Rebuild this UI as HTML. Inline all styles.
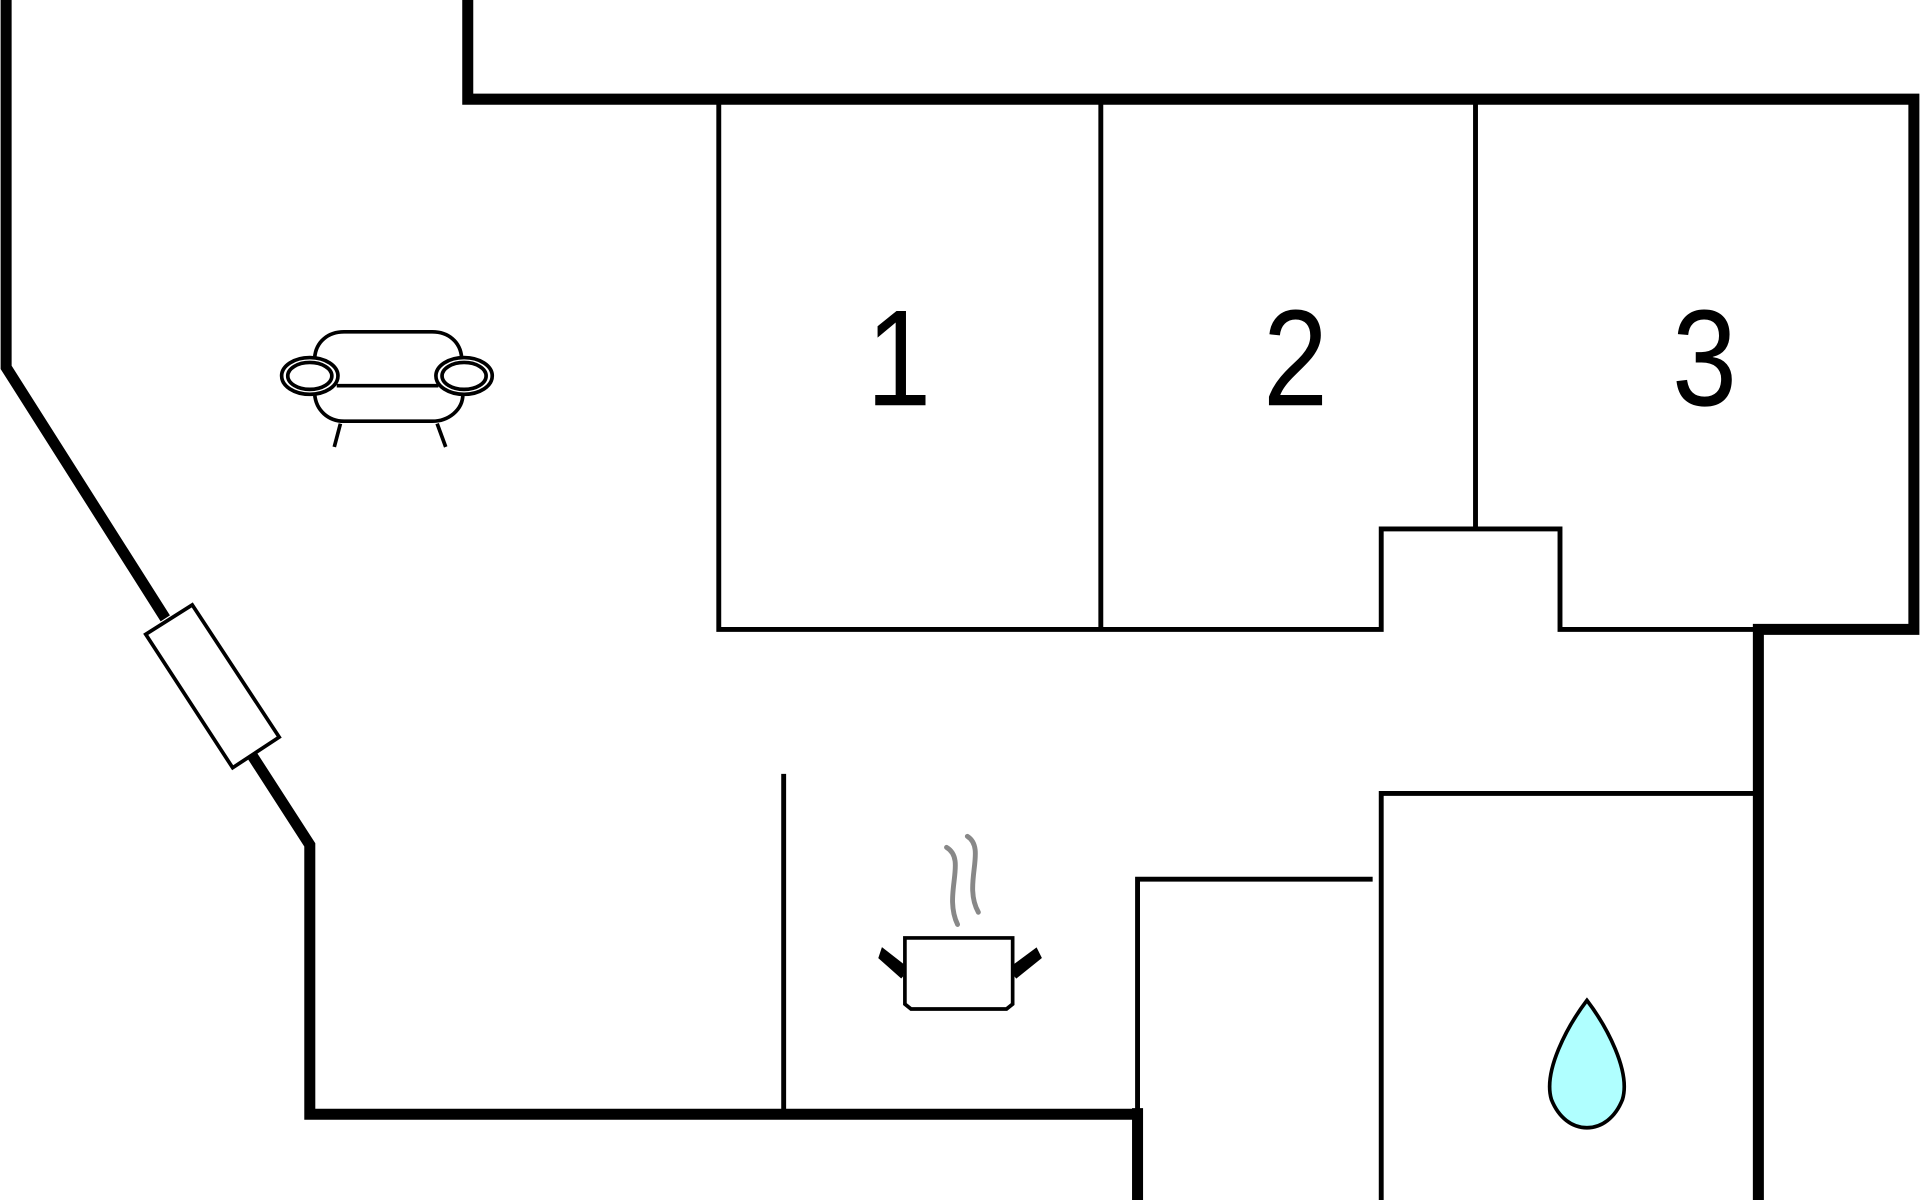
<!DOCTYPE html>
<html><head><meta charset="utf-8"><style>
html,body{margin:0;padding:0;background:#fff;width:1920px;height:1200px;overflow:hidden}
svg{display:block}
</style></head><body>
<svg width="1920" height="1200" viewBox="0 0 1568 980" xmlns="http://www.w3.org/2000/svg">
<g fill="none" stroke="#000" stroke-linecap="butt">
<polyline points="5,0 5,300 135,505" stroke-width="9"/>
<polyline points="204,614 253,690 253,910 929,910" stroke-width="9"/>
<line x1="929" y1="905" x2="929" y2="980" stroke-width="9"/>
<polyline points="382,0 382,81 1563,81 1563,514 1436,514 1436,980" stroke-width="9"/>
<polygon points="119,518 157,494 228,602 190,627" fill="#fff" stroke-width="3"/>
<g stroke-width="4">
<polyline points="587,84 587,514 1128,514 1128,432 1274,432 1274,514 1432,514"/>
<line x1="899" y1="84" x2="899" y2="514"/>
<line x1="1205" y1="84" x2="1205" y2="432"/>
<line x1="640" y1="632" x2="640" y2="908"/>
<polyline points="929,908 929,718 1121,718"/>
<polyline points="1128,980 1128,648 1432,648"/>
</g>
<g stroke-width="3">
<path d="M257,292 C258,279 268,271 281,271 L353,271 C366,271 376,279 377,292"/>
<path d="M257,322 C258,335 268,344 281,344 L353,344 C366,344 378,335 378,322"/>
<line x1="275" y1="315" x2="358" y2="315"/>
<ellipse cx="253" cy="307" rx="23" ry="15"/>
<ellipse cx="253" cy="307" rx="18" ry="11"/>
<ellipse cx="379" cy="307" rx="23" ry="15"/>
<ellipse cx="379" cy="307" rx="18" ry="11"/>
<line x1="278" y1="346" x2="273" y2="365"/>
<line x1="357" y1="346" x2="364" y2="365"/>
</g>
<g stroke-width="3">
<path d="M739,766 L827,766 L827,820 L822,824 L744,824 L739,820 Z"/>
<path d="M739,790 L721,776 L719,782 L737,798" fill="#000"/>
<path d="M827,790 L846,776 L849,782 L829,798" fill="#000"/>
</g>
<g stroke="#888" stroke-width="4" stroke-linecap="round">
<path d="M773,692 C790,702 770,730 782,755"/>
<path d="M790,683 C806,693 786,722 799,745"/>
</g>
<path d="M1296,817 C1280,838 1260,875 1267,898 C1273,913 1284,921 1296,921 C1308,921 1319,913 1325,898 C1332,875 1312,838 1296,817 Z" fill="#b0ffff" stroke-width="3"/>
</g>
<g font-family="Liberation Sans, sans-serif" font-size="112" text-anchor="middle" fill="#000">
<text transform="translate(734,331) scale(0.85,1)">1</text>
<text transform="translate(1058,331) scale(0.85,1)">2</text>
<text transform="translate(1392,331) scale(0.85,1)">3</text>
</g>
</svg>
</body></html>
